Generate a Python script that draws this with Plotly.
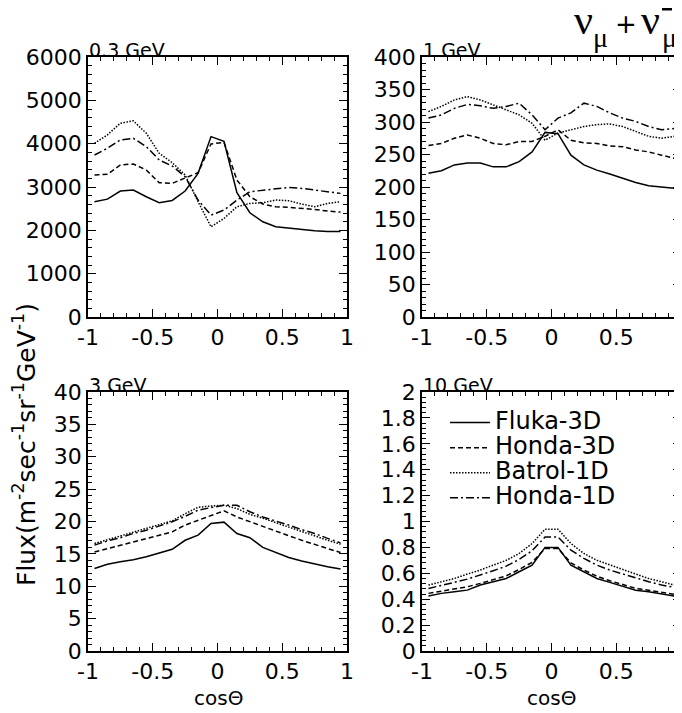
import plotly.graph_objects as go

W, H = 682, 713
OFF = 8  # page body margin in the browser

def fx(p):
    return (p - OFF) / W

def fy(p):
    return 1 - (p - OFF) / H

cos_theta = [-0.95, -0.85, -0.75, -0.65, -0.55, -0.45, -0.35, -0.25, -0.15, -0.05,
             0.05, 0.15, 0.25, 0.35, 0.45, 0.55, 0.65, 0.75, 0.85, 0.95]

# 0.3 GeV
e03_fluka3d = [2660, 2720, 2907, 2930, 2776, 2637, 2690, 2907, 3315, 4163,
               4055, 2868, 2405, 2197, 2082, 2050, 2012, 1990, 1974, 1974]
e03_honda3d = [3277, 3292, 3508, 3531, 3392, 3100, 3084, 3200, 3331, 3994,
               4032, 3161, 2776, 2606, 2544, 2529, 2513, 2483, 2444, 2421]
e03_batrol1d = [4009, 4202, 4472, 4526, 4240, 3778, 3562, 3277, 2660, 2082,
                2274, 2544, 2621, 2637, 2699, 2683, 2606, 2544, 2621, 2660]
e03_honda1d = [3739, 3894, 4086, 4125, 3932, 3624, 3485, 3238, 2698, 2352,
               2467, 2698, 2891, 2930, 2968, 2991, 2968, 2930, 2891, 2853]

# 1 GeV
e1_fluka3d = [221, 225, 234, 237, 237, 231, 231, 239, 254, 284,
              282, 249, 234, 226, 220, 213, 207, 202, 200, 198]
e1_honda3d = [264, 267, 275, 280, 275, 267, 265, 270, 270, 278,
              288, 272, 268, 267, 263, 262, 257, 254, 249, 244]
e1_batrol1d = [316, 324, 334, 339, 334, 326, 319, 311, 298, 272,
               283, 288, 293, 296, 297, 293, 285, 278, 275, 278]
e1_honda1d = [306, 311, 321, 327, 325, 321, 324, 329, 311, 288,
              306, 314, 329, 324, 314, 306, 301, 293, 288, 290]

# 3 GeV
e3_fluka3d = [12.75, 13.4, 13.8, 14.1, 14.55, 15.1, 15.7, 17.1, 17.9, 19.7,
              19.9, 18.15, 17.5, 16.0, 15.2, 14.45, 13.9, 13.4, 13.0, 12.65]
e3_honda3d = [15.3, 15.8, 16.35, 16.85, 17.4, 17.9, 18.4, 19.45, 20.2, 21.0,
              21.65, 20.7, 19.95, 19.2, 18.5, 17.8, 17.1, 16.5, 15.85, 15.2]
e3_batrol1d = [16.6, 17.2, 17.8, 18.4, 18.9, 19.6, 20.1, 21.2, 22.2, 22.4,
               22.5, 22.0, 21.1, 20.5, 19.8, 19.1, 18.4, 17.8, 17.1, 16.5]
e3_honda1d = [16.35, 17.0, 17.5, 18.15, 18.65, 19.3, 19.95, 20.8, 21.75, 22.15,
              22.5, 22.5, 21.5, 20.7, 20.1, 19.45, 18.75, 18.15, 17.4, 16.7]

# 10 GeV
e10_fluka3d = [0.424, 0.445, 0.458, 0.47, 0.509, 0.535, 0.56, 0.612, 0.663, 0.80,
               0.80, 0.663, 0.612, 0.56, 0.53, 0.50, 0.47, 0.458, 0.44, 0.424]
e10_honda3d = [0.445, 0.463, 0.478, 0.496, 0.522, 0.548, 0.58, 0.63, 0.684, 0.792,
               0.792, 0.681, 0.625, 0.578, 0.542, 0.514, 0.483, 0.47, 0.452, 0.437]
e10_batrol1d = [0.509, 0.535, 0.56, 0.594, 0.625, 0.663, 0.70, 0.753, 0.83, 0.94,
                0.94, 0.83, 0.753, 0.70, 0.663, 0.625, 0.594, 0.56, 0.535, 0.509]
e10_honda1d = [0.483, 0.509, 0.53, 0.555, 0.586, 0.62, 0.655, 0.707, 0.774, 0.88,
               0.88, 0.779, 0.715, 0.663, 0.625, 0.594, 0.56, 0.535, 0.509, 0.491]

model_names = ["Fluka-3D", "Honda-3D", "Batrol-1D", "Honda-1D"]
model_dashes = ["solid", "5px,3px", "1.5px,1.5px", "8px,3px,2px,3px"]

panel_labels = ["0.3 GeV", "1 GeV", "3 GeV", "10 GeV"]
panel_data = [
    [e03_fluka3d, e03_honda3d, e03_batrol1d, e03_honda1d],
    [e1_fluka3d, e1_honda3d, e1_batrol1d, e1_honda1d],
    [e3_fluka3d, e3_honda3d, e3_batrol1d, e3_honda1d],
    [e10_fluka3d, e10_honda3d, e10_batrol1d, e10_honda1d],
]
y_ranges = [[0, 6000], [0, 400], [0, 40], [0, 2]]
y_dticks = [1000, 50, 5, 0.2]
y_minor = [200, 10, 1, 0.04]

x_tickvals = [-1, -0.5, 0, 0.5, 1]
x_ticktext = ["-1", "-0.5", "0", "0.5", "1"]

# pixel boxes (left, right, top, bottom) in screen pixels
boxes = [(88, 347, 57, 317), (422, 681, 57, 317),
         (88, 347, 392, 651), (422, 681, 392, 651)]

fig = go.Figure()
tick_font = dict(family="DejaVu Sans", size=22, color="black")

for k in range(4):
    suffix = "" if k == 0 else str(k + 1)
    for j in range(4):
        fig.add_trace(go.Scatter(
            x=cos_theta, y=panel_data[k][j], mode="lines",
            line=dict(color="black", width=1.5, dash=model_dashes[j]),
            name='<span style="font-size:24px">' + model_names[j] + '</span>',
            showlegend=(k == 3),
            xaxis="x" + suffix, yaxis="y" + suffix,
        ))
    l, r, t, b = boxes[k]
    common = dict(showline=True, linecolor="black", linewidth=1.5, mirror="ticks",
                  ticks="inside", ticklen=8, tickwidth=1, tickcolor="black",
                  showgrid=False, zeroline=False, tickfont=tick_font,
                  automargin=False)
    fig.update_layout(**{
        "xaxis" + suffix: dict(domain=[fx(l), fx(r)], range=[-1, 1],
                               anchor="y" + suffix, tickmode="array",
                               tickvals=x_tickvals, ticktext=x_ticktext,
                               minor=dict(ticks="inside", ticklen=4, dtick=0.1,
                                          tick0=0, tickcolor="black"),
                               **common),
        "yaxis" + suffix: dict(domain=[fy(b), fy(t)], range=y_ranges[k],
                               anchor="x" + suffix, dtick=y_dticks[k], tick0=0,
                               minor=dict(ticks="inside", ticklen=4, dtick=y_minor[k],
                                          tick0=0, tickcolor="black"),
                               **common),
    })
    fig.add_annotation(x=fx(l - 1), y=fy(t), xref="paper", yref="paper",
                       xanchor="left", yanchor="bottom", yshift=-6,
                       text=panel_labels[k], showarrow=False,
                       font=dict(family="DejaVu Sans", size=19, color="black"))

for cx in (218, 551):
    fig.add_annotation(x=fx(cx), y=fy(698), xref="paper", yref="paper",
                       xanchor="center", yanchor="middle",
                       text="cosΘ", showarrow=False,
                       font=dict(family="DejaVu Sans", size=20, color="black"))

fig.add_annotation(x=fx(24), y=fy(445), xref="paper", yref="paper",
                   xanchor="center", yanchor="middle",
                   text="Flux(m<sup>-2</sup>sec<sup>-1</sup>sr<sup>-1</sup>GeV<sup>-1</sup>)",
                   textangle=-90, showarrow=False,
                   font=dict(family="DejaVu Sans", size=25, color="black"))

# title: nu_mu + nu_mu-bar
greek = dict(family="Liberation Serif", size=42, color="black")
sub = dict(family="Liberation Serif", size=28, color="black")
title_parts = [("ν", 583, 20, greek), ("μ", 600, 38, sub),
               ("+", 626, 24, dict(family="DejaVu Sans", size=26, color="black")),
               ("ν", 650, 20, greek), ("μ", 669, 38, sub)]
for txt, px, py, fnt in title_parts:
    fig.add_annotation(x=fx(px), y=fy(py), xref="paper", yref="paper",
                       xanchor="center", yanchor="middle",
                       text=txt, showarrow=False, font=fnt)
fig.add_shape(type="line", xref="paper", yref="paper",
              x0=fx(662), x1=fx(672), y0=fy(9), y1=fy(9),
              line=dict(color="black", width=3))

fig.update_layout(
    width=W, height=H, margin=dict(l=0, r=0, t=0, b=0, pad=0, autoexpand=False),
    paper_bgcolor="white", plot_bgcolor="white",
    legend=dict(x=fx(445), y=fy(405), xanchor="left", yanchor="top",
                bgcolor="rgba(0,0,0,0)", itemwidth=40,
                font=dict(family="DejaVu Sans", size=17, color="black")),
)

fig.write_html("out.html")
